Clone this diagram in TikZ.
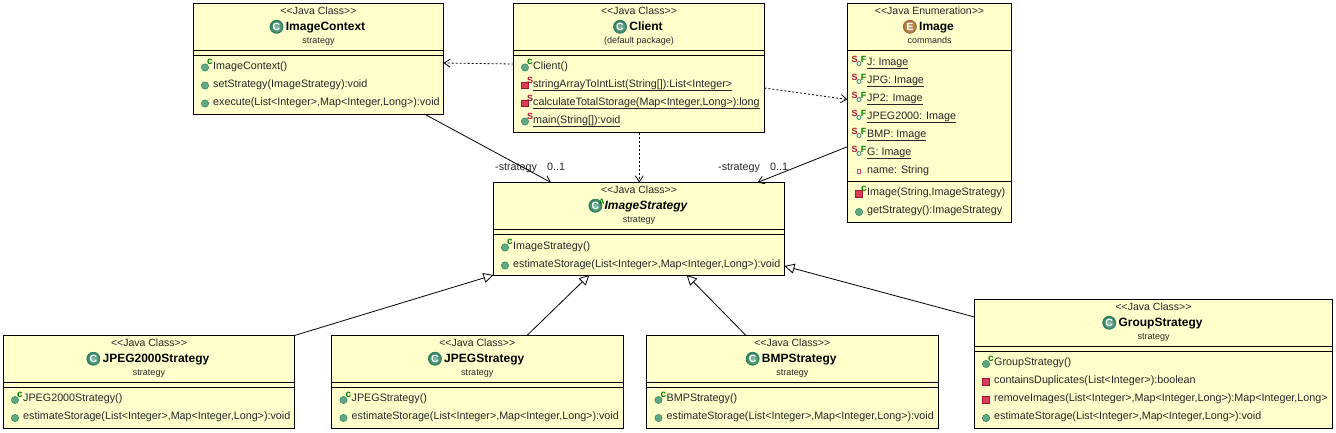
\documentclass[tikz,border=0pt]{standalone}
\usepackage{fontspec}
\setmainfont{Liberation Sans}[Ligatures=TeXOff]
\usetikzlibrary{arrows.meta,positioning}
\definecolor{boxyellow}{HTML}{FFFFCC}
\definecolor{dotgreen}{HTML}{5FA884}
\definecolor{darkgreen}{HTML}{2F7F5F}
\definecolor{dotred}{HTML}{D8405A}
\definecolor{darkred}{HTML}{B01030}
\tikzset{
  classbox/.style = {draw, fill=boxyellow, line width=1pt, inner sep=0pt, outer sep=0pt, anchor=north west},
  typetext/.style = {font=\fontsize{10.5}{12}\selectfont, inner sep=0pt, anchor=base, text=black!85},
  pkgtext/.style = {font=\fontsize{9}{11}\selectfont, inner sep=0pt, anchor=base, text=black!85},
  classname/.style = {font=\fontsize{12}{14}\selectfont\bfseries, inner sep=0pt, anchor=base, text height=8.5pt, text depth=2pt},
  absname/.style = {classname, font=\fontsize{12}{14}\selectfont\bfseries\itshape},
  membertext/.style = {font=\fontsize{10.75}{12}\selectfont, inner sep=0pt, anchor=base west, text=black!85},
  looselabel/.style = {font=\fontsize{10.75}{12}\selectfont, inner sep=0pt, anchor=base west, text=black!85},
  classicon/.style = {circle, minimum size=13pt, inner sep=0pt, draw=darkgreen, line width=0.8pt, inner color=dotgreen!70, outer color=darkgreen,
    text=white, font=\fontsize{10.5}{10}\selectfont\bfseries},
  enumicon/.style = {classicon, draw=brown!80!black, inner color=brown!70, outer color=brown!90!black},
  absicon/.style = {classicon, label={[supgreen, font=\fontsize{8}{8}\selectfont\bfseries, xshift=6.5pt, yshift=4pt]center:A}},
  supgreen/.style = {font=\fontsize{10}{8}\selectfont\bfseries, inner sep=0pt, text=green!50!black},
  supred/.style = {font=\fontsize{9}{8}\selectfont\bfseries, inner sep=0pt, text=darkred},
  pub/.style = {circle, minimum size=7.3pt, inner sep=0pt, draw=darkgreen, line width=0.5pt, fill=dotgreen},
  priv/.style = {rectangle, minimum size=6.5pt, inner sep=0pt, draw=darkred, line width=0.6pt, fill=dotred},
  pubctor/.style = {pub, label={[supgreen, xshift=5pt, yshift=5.5pt]center:c}},
  privctor/.style = {priv, label={[supgreen, xshift=5pt, yshift=5.5pt]center:c}},
  pubstatic/.style = {pub, label={[supred, xshift=5pt, yshift=5.5pt]center:S}},
  privstatic/.style = {priv, label={[supred, xshift=5pt, yshift=5.5pt]center:S}},
  constfield/.style = {circle, minimum size=4pt, inner sep=0pt, draw=darkgreen, line width=0.8pt, fill=white,
    label={[supred, xshift=-4.5pt, yshift=4.4pt]center:S}, label={[supred, text=green!50!black, xshift=4.5pt, yshift=4.4pt]center:F}},
  privfield/.style = {rectangle, minimum size=3.6pt, inner sep=0pt, draw=dotred, line width=1pt, fill=white},
  depend/.style = {-{Straight Barb[length=6pt,width=8pt]}, line width=0.8pt, dash pattern=on 2pt off 2pt},
  assoc/.style = {-{Straight Barb[length=6pt,width=8pt]}, line width=0.8pt},
  extends/.style = {-{Triangle[open,length=10pt,width=10pt,fill=white]}, line width=0.8pt}
}

\begin{document}
\begin{tikzpicture}[x = 1pt, y = -1pt]
    \useasboundingbox (0,0) rectangle (1336,432);
    % class boxes: name, corner, size, second rule, title style, icon, letter, stereotype, package
    \foreach \nm/\xa/\ya/\w/\h/\rulb/\ttl/\ic/\ltr/\stype/\txt/\pk in {
        context/193.5/3.5/250/110.5/52/classname/classicon/C/Java Class/ImageContext/strategy,
        client/513.5/3.5/251/129/52/classname/classicon/C/Java Class/Client/{(default package)},
        image/847.5/3.5/164/218.5/178/classname/enumicon/E/Java Enumeration/Image/commands,
        strategy/493.5/182.5/291/92.5/52/absname/absicon/C/Java Class/ImageStrategy/strategy,
        jpegtwo/3.5/335.5/291/93/52/classname/classicon/C/Java Class/JPEG2000Strategy/strategy,
        jpeg/331.5/335.5/291.5/93/52/classname/classicon/C/Java Class/JPEGStrategy/strategy,
        bmp/646.5/335.5/291.5/93/52/classname/classicon/C/Java Class/BMPStrategy/strategy,
        group/974.5/299.5/358/129/52/classname/classicon/C/Java Class/GroupStrategy/strategy}
    {
      \node [classbox, minimum width=\w pt, minimum height=\h pt] (\nm) at (\xa,\ya) {};
      \draw [line width=1pt] ([yshift=-47pt]\nm.north west) -- ([yshift=-47pt]\nm.north east);
      \draw [line width=1pt] ([yshift=-\rulb pt]\nm.north west) -- ([yshift=-\rulb pt]\nm.north east);
      \node [typetext] (\nm-type) at ([yshift=-11pt]\nm.north) {<<\stype>>};
      \node [\ttl] (\nm-name) at ([xshift=7pt,yshift=-26.5pt]\nm.north) {\txt};
      \node [\ic, left=2.2pt of \nm-name] (\nm-icon) {\ltr};
      \node [pkgtext] (\nm-pkg) at ([yshift=-39.5pt]\nm.north) {\pk};
    }
    % members: name, icon style, baseline start, text
    \foreach \mm/\kind/\xa/\ya/\txt in {
        ctxa/pubctor/213/69/{ImageContext()},
        ctxb/pub/213/87/{setStrategy(ImageStrategy):void},
        ctxc/pub/213/105/{execute(List<Integer>,Map<Integer,Long>):void},
        clia/pubctor/533/69/{Client()},
        clib/privstatic/533/87/{\underline{stringArrayToIntList(String[]):List<Integer>}},
        clic/privstatic/533/105/{\underline{calculateTotalStorage(Map<Integer,Long>):long}},
        clid/pubstatic/533/123/{\underline{main(String[]):void}},
        imga/constfield/867/65/{\underline{J: Image}},
        imgb/constfield/867/83/{\underline{JPG: Image}},
        imgc/constfield/867/101/{\underline{JP2: Image}},
        imgd/constfield/867/119/{\underline{JPEG2000: Image}},
        imge/constfield/867/137/{\underline{BMP: Image}},
        imgf/constfield/867/155/{\underline{G: Image}},
        imgg/privfield/867/173/{name: String},
        imgh/privctor/867/195.5/{Image(String,ImageStrategy)},
        imgi/pub/867/213.5/{getStrategy():ImageStrategy},
        stra/pubctor/513/249/{ImageStrategy()},
        strb/pub/513/267/{estimateStorage(List<Integer>,Map<Integer,Long>):void},
        jtwa/pubctor/23/401.5/{JPEG2000Strategy()},
        jtwb/pub/23/419.5/{estimateStorage(List<Integer>,Map<Integer,Long>):void},
        jpga/pubctor/351.5/401.5/{JPEGStrategy()},
        jpgb/pub/351.5/419.5/{estimateStorage(List<Integer>,Map<Integer,Long>):void},
        bmpa/pubctor/666.5/401.5/{BMPStrategy()},
        bmpb/pub/666.5/419.5/{estimateStorage(List<Integer>,Map<Integer,Long>):void},
        grpa/pubctor/994/365.5/{GroupStrategy()},
        grpb/priv/994/383.5/{containsDuplicates(List<Integer>):boolean},
        grpc/priv/994/401.5/{removeImages(List<Integer>,Map<Integer,Long>):Map<Integer,Long>},
        grpd/pub/994/419.5/{estimateStorage(List<Integer>,Map<Integer,Long>):void}}
    {
      \node [membertext] (\mm) at (\xa,\ya) {\txt};
      \node [\kind] (\mm-icon) at ([xshift=-8pt,yshift=1.5pt]\mm.base west) {};
    }
    % association ends
    \node [looselabel] (rolea) at (495,170) {-strategy};
    \node [looselabel] (multa) at (547,170) {0..1};
    \node [looselabel] (roleb) at (718,170) {-strategy};
    \node [looselabel] (multb) at (770,170) {0..1};
    % connectors
    \draw [depend] ([yshift=-60.5pt]client.north west) -- ([yshift=-59.5pt]context.north east);
    \draw [depend] ([yshift=-84.5pt]client.north east) -- ([yshift=-96pt]image.north west);
    \draw [depend] ([xshift=125.8pt]client.south west) -- ([xshift=145.8pt]strategy.north west);
    \draw [assoc] ([xshift=230.8pt]context.south west) -- ([xshift=57.5pt]strategy.north west);
    \draw [assoc] ([yshift=-143.2pt]image.north west) -- ([xshift=-27pt]strategy.north east);
    \draw [extends] (jpegtwo.north east) -- (strategy.south west);
    \draw [extends] ([xshift=195.5pt]jpeg.north west) -- ([xshift=95.8pt]strategy.south west);
    \draw [extends] ([xshift=99.5pt]bmp.north west) -- ([xshift=193.2pt]strategy.south west);
    \draw [extends] ([yshift=-17.5pt]group.north west) -- ([yshift=9pt]strategy.south east);
  \end{tikzpicture}
\end{document}
